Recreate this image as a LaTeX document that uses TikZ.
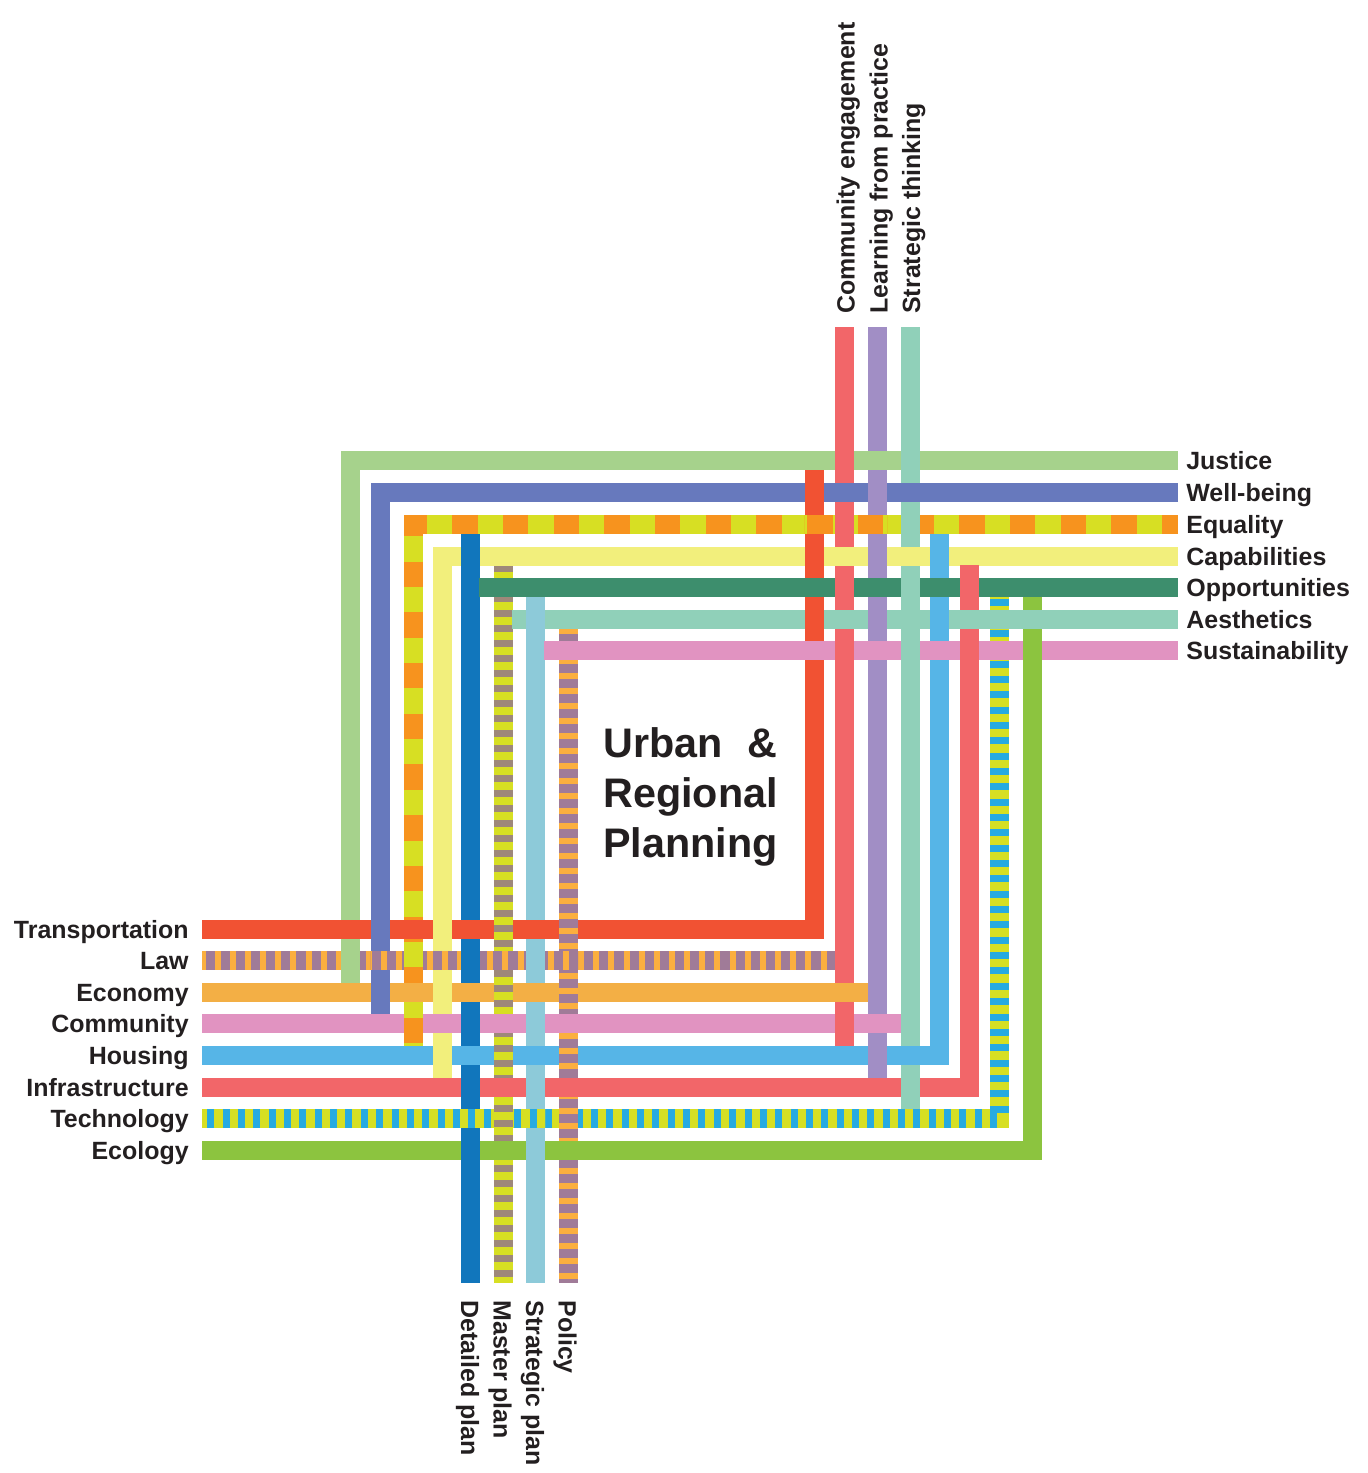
\documentclass[tikz,border=0pt]{standalone}
\usepackage{fontspec}
\setmainfont{Liberation Sans}
\usetikzlibrary{calc}

% colours of the bands
\definecolor{cJustice}{HTML}{A6D28C}
\definecolor{cWellbeing}{HTML}{6779BD}
\definecolor{cEqOrange}{HTML}{F7931E}
\definecolor{cLime}{HTML}{D7DF23}
\definecolor{cCapab}{HTML}{F2EF7C}
\definecolor{cOpport}{HTML}{3D8E6D}
\definecolor{cMint}{HTML}{90D0B9}
\definecolor{cPink}{HTML}{E193C1}
\definecolor{cTransp}{HTML}{F15233}
\definecolor{cPurple}{HTML}{A07B98}
\definecolor{cOrange}{HTML}{FBAF3F}
\definecolor{cEcon}{HTML}{F3AF45}
\definecolor{cHousing}{HTML}{56B5E7}
\definecolor{cRed}{HTML}{F26669}
\definecolor{cBlue}{HTML}{27AAE1}
\definecolor{cEcology}{HTML}{8CC43F}
\definecolor{cLearn}{HTML}{A18EC5}
\definecolor{cDetail}{HTML}{1176BC}
\definecolor{cBrown}{HTML}{9E887A}
\definecolor{cStratPlan}{HTML}{8DCAD9}
\definecolor{cText}{HTML}{231F20}

\newcommand{\lblfont}{\bfseries\fontsize{14.2}{17}\selectfont}
\newcommand{\titlefont}{\bfseries\fontsize{23.5}{28}\selectfont}

\tikzset{
  band/.style={line width=0.38cm, draw=#1, line join=miter},
  rlabel/.style={anchor=base west, inner sep=0pt, font=\lblfont, text=cText},
  llabel/.style={anchor=base east, inner sep=0pt, font=\lblfont, text=cText},
  tlabel/.style={rotate=90, anchor=base west, inner sep=0pt, font=\lblfont, text=cText},
  blabel/.style={rotate=-90, anchor=base west, inner sep=0pt, font=\lblfont, text=cText},
  title/.style={inner sep=0pt, font=\titlefont, text=cText}
}

% one macro per band
\newcommand{\lineJustice}{\draw[band=cJustice] (1178,460.5) -- (350.5,460.5) -- (350.5,983);}
\newcommand{\lineWellbeing}{\draw[band=cWellbeing] (1178,492.5) -- (380.5,492.5) -- (380.5,1013.5);}
\newcommand{\lineEquality}{%
  \draw[band=cEqOrange] (1178,524.5) -- (413.5,524.5) -- (413.5,1045.5);
  \draw[band=cLime, dash pattern=on 0.507cm off 0.507cm, dash phase=0.694cm] (1178,524.5) -- (413.5,524.5) -- (413.5,1045.5);}
\newcommand{\lineCapabilities}{\draw[band=cCapab] (1178,556) -- (442,556) -- (442,1078);}
\newcommand{\lineOpportunities}{\draw[band=cOpport] (479,587.5) -- (1178,587.5);}
\newcommand{\lineAesthetics}{\draw[band=cMint] (511.5,619) -- (1178,619);}
\newcommand{\lineSustainability}{\draw[band=cPink] (544,650.5) -- (1178,650.5);}
\newcommand{\lineTransportation}{\draw[band=cTransp] (202,929.5) -- (814.5,929.5) -- (814.5,470);}
\newcommand{\lineLaw}{%
  \draw[band=cPurple] (202,960.5) -- (835,960.5);
  \draw[band=cOrange, dash pattern=on 0.12cm off 0.183cm, dash phase=0.05cm] (202,960.5) -- (835,960.5);}
\newcommand{\lineEconomy}{\draw[band=cEcon] (202,992.5) -- (868,992.5);}
\newcommand{\lineCommunity}{\draw[band=cPink] (202,1023.5) -- (901,1023.5);}
\newcommand{\lineHousing}{\draw[band=cHousing] (202,1055.5) -- (939.5,1055.5) -- (939.5,534);}
\newcommand{\lineInfrastructure}{\draw[band=cRed] (202,1087) -- (969.5,1087) -- (969.5,565);}
\newcommand{\lineTechnology}{%
  \draw[band=cLime] (202,1118.5) -- (999.5,1118.5) -- (999.5,597);
  \draw[band=cBlue, dash pattern=on 0.14cm off 0.167cm, dash phase=0.2cm] (202,1118.5) -- (999.5,1118.5) -- (999.5,597);}
\newcommand{\lineEcology}{\draw[band=cEcology] (202,1150) -- (1032,1150) -- (1032,597);}
\newcommand{\lineCommEng}{\draw[band=cRed] (844.5,327) -- (844.5,1046);}
\newcommand{\lineLearning}{\draw[band=cLearn] (877.5,327) -- (877.5,1078);}
\newcommand{\lineStratThink}{\draw[band=cMint] (910,327) -- (910,1109);}
\newcommand{\lineDetailed}{\draw[band=cDetail] (470.5,533.5) -- (470.5,1283);}
\newcommand{\lineMaster}{%
  \draw[band=cLime] (503,565.5) -- (503,1283);
  \draw[band=cBrown, dash pattern=on 0.13cm off 0.17cm] (503,565.5) -- (503,1283);}
\newcommand{\lineStratPlan}{\draw[band=cStratPlan] (535.5,597) -- (535.5,1283);}
\newcommand{\linePolicy}{%
  \draw[band=cPurple] (568,628) -- (568,1283);
  \draw[band=cOrange, dash pattern=on 0.12cm off 0.18cm] (568,628) -- (568,1283);}

% redraw the band that lies on top at one crossing
\newcommand{\weave}[3]{\begin{scope}\clip (#1-10,#2-10) rectangle (#1+10,#2+10); \csname line#3\endcsname\end{scope}}

\begin{document}
\begin{tikzpicture}[x=0.02cm, y=-0.02cm]
    \useasboundingbox (0,0) rectangle (1368,1473);

    % Bands
    \lineCommEng \lineLearning \lineStratThink
    \lineDetailed \lineMaster \lineStratPlan \linePolicy
    \lineJustice \lineWellbeing \lineEquality \lineCapabilities
    \lineOpportunities \lineAesthetics \lineSustainability
    \lineTransportation \lineLaw \lineEconomy \lineCommunity
    \lineHousing \lineInfrastructure \lineTechnology \lineEcology

    % Weave, upper block
    \foreach \x/\y/\who in {
      814.5/492.5/Transportation, 814.5/524.5/Equality, 814.5/556/Transportation,
      814.5/587.5/Opportunities, 814.5/619/Transportation, 814.5/650.5/Sustainability,
      844.5/460.5/CommEng, 844.5/492.5/Wellbeing, 844.5/524.5/CommEng, 844.5/556/Capabilities,
      844.5/587.5/CommEng, 844.5/619/Aesthetics, 844.5/650.5/CommEng,
      877.5/460.5/Justice, 877.5/492.5/Learning, 877.5/524.5/Equality, 877.5/556/Learning,
      877.5/587.5/Opportunities, 877.5/619/Learning, 877.5/650.5/Sustainability,
      910/460.5/StratThink, 910/492.5/Wellbeing, 910/524.5/StratThink, 910/556/Capabilities,
      910/587.5/StratThink, 910/619/Aesthetics, 910/650.5/StratThink,
      939.5/556/Housing, 939.5/587.5/Opportunities, 939.5/619/Housing, 939.5/650.5/Sustainability,
      969.5/587.5/Infrastructure, 969.5/619/Aesthetics, 969.5/650.5/Infrastructure,
      999.5/619/Aesthetics, 999.5/650.5/Sustainability,
      1032/619/Aesthetics, 1032/650.5/Ecology,
      470.5/556/Detailed, 503/587.5/Opportunities, 535.5/619/StratPlan, 568/650.5/Sustainability}
      {\weave{\x}{\y}{\who}}

    % Weave, lower block
    \foreach \x/\y/\who in {
      350.5/929.5/Transportation, 350.5/960.5/Justice,
      380.5/929.5/Wellbeing, 380.5/960.5/Law, 380.5/992.5/Wellbeing,
      413.5/929.5/Transportation, 413.5/960.5/Equality, 413.5/992.5/Economy, 413.5/1023.5/Equality,
      442/929.5/Capabilities, 442/960.5/Law, 442/992.5/Capabilities, 442/1023.5/Community, 442/1055.5/Capabilities,
      470.5/929.5/Transportation, 470.5/960.5/Detailed, 470.5/992.5/Economy, 470.5/1023.5/Detailed,
      470.5/1055.5/Housing, 470.5/1087/Detailed, 470.5/1118.5/Technology, 470.5/1150/Detailed,
      503/929.5/Master, 503/960.5/Law, 503/992.5/Master, 503/1023.5/Community,
      503/1055.5/Master, 503/1087/Infrastructure, 503/1118.5/Master, 503/1150/Ecology,
      535.5/929.5/Transportation, 535.5/960.5/StratPlan, 535.5/992.5/Economy, 535.5/1023.5/StratPlan,
      535.5/1055.5/Housing, 535.5/1087/StratPlan, 535.5/1118.5/Technology, 535.5/1150/StratPlan,
      568/929.5/Policy, 568/960.5/Law, 568/992.5/Policy, 568/1023.5/Community,
      568/1055.5/Policy, 568/1087/Infrastructure, 568/1118.5/Policy, 568/1150/Ecology,
      844.5/992.5/Economy, 844.5/1023.5/CommEng,
      877.5/1023.5/Community, 877.5/1055.5/Learning,
      910/1055.5/Housing, 910/1087/StratThink}
      {\weave{\x}{\y}{\who}}

    % Labels, right
    \node[rlabel] (justice) at (1186,469.5) {Justice};
    \node[rlabel] (wellbeing) at (1186,501.5) {Well-being};
    \node[rlabel] (equality) at (1186,533.5) {Equality};
    \node[rlabel] (capabilities) at (1186,565) {Capabilities};
    \node[rlabel] (opportunities) at (1186,596.5) {Opportunities};
    \node[rlabel] (aesthetics) at (1186,628) {Aesthetics};
    \node[rlabel] (sustainability) at (1186,659.5) {Sustainability};

    % Labels, left
    \node[llabel] (transportation) at (189,938.5) {Transportation};
    \node[llabel] (law) at (189,969.5) {Law};
    \node[llabel] (economy) at (189,1001.5) {Economy};
    \node[llabel] (community) at (189,1032.5) {Community};
    \node[llabel] (housing) at (189,1064.5) {Housing};
    \node[llabel] (infrastructure) at (189,1096) {Infrastructure};
    \node[llabel] (technology) at (189,1127.5) {Technology};
    \node[llabel] (ecology) at (189,1159) {Ecology};

    % Labels, top
    \node[tlabel] (commeng) at (854.5,314) {Community engagement};
    \node[tlabel] (learning) at (887.5,314) {Learning from practice};
    \node[tlabel] (stratthink) at (920,314) {Strategic thinking};

    % Labels, bottom
    \node[blabel] (detailed) at (461,1300) {Detailed plan};
    \node[blabel] (master) at (493.5,1300) {Master plan};
    \node[blabel] (stratplan) at (526,1300) {Strategic plan};
    \node[blabel] (policy) at (558.5,1300) {Policy};

    % Title
    \node[title, anchor=base west] (urban) at (603,757) {Urban};
    \node[title, anchor=base east] (amp) at (778,757) {\&};
    \node[title, anchor=base west] (regional) at (603,807) {Regional};
    \node[title, anchor=base west] (planning) at (603,857) {Planning};
\end{tikzpicture}
\end{document}
